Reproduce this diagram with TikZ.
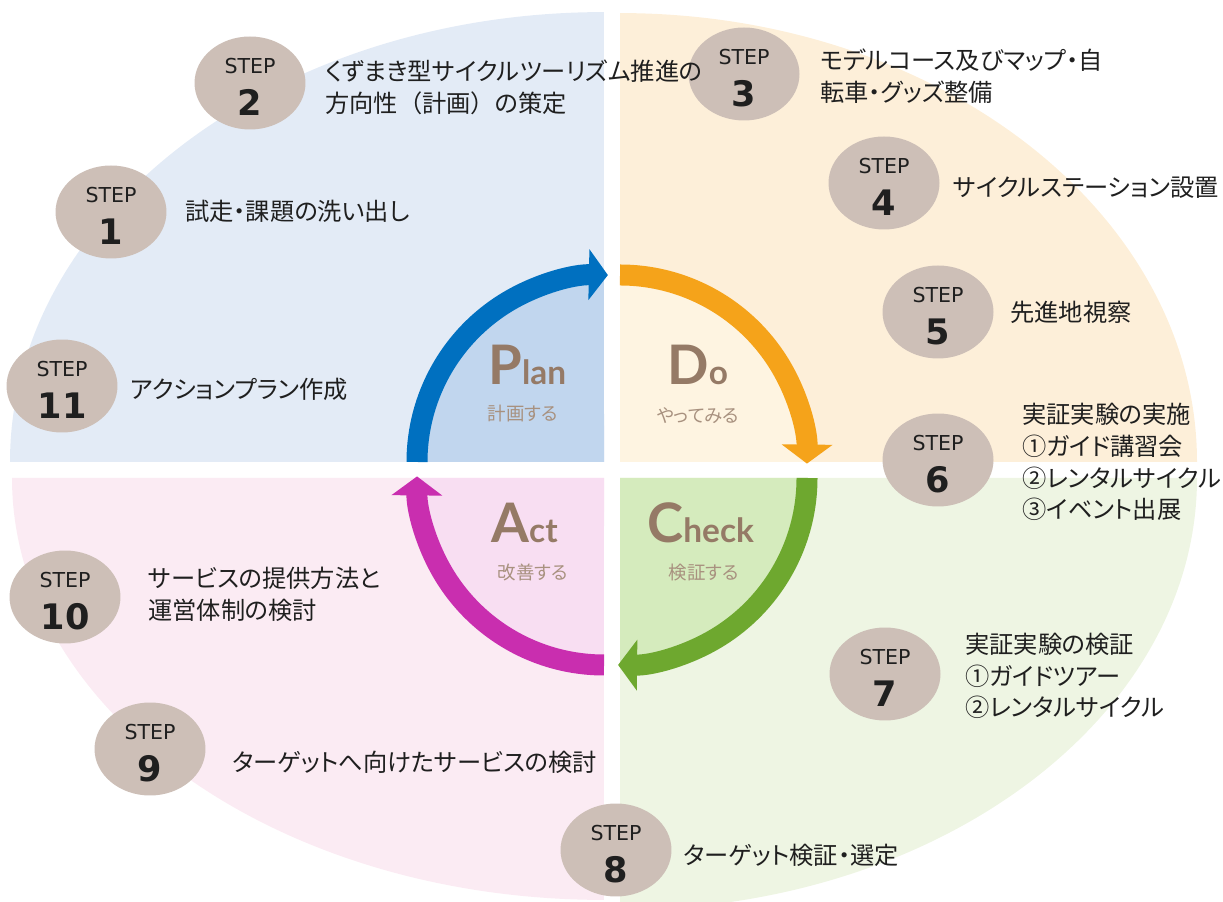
\documentclass[tikz,border=0pt]{standalone}
\usepackage{fontspec}
\newfontfamily\jpfont[RawFeature=+palt]{Noto Sans CJK JP}
\newfontfamily\jpwide{Noto Sans CJK JP}
\newfontfamily\stepfont{DejaVu Sans}
\newfontfamily\pdcafont{Lato}
\usetikzlibrary{arrows.meta,shapes.geometric}

\definecolor{planout}{HTML}{E3EBF6}
\definecolor{planin}{HTML}{C1D6EE}
\definecolor{planarr}{HTML}{0070C0}
\definecolor{doout}{HTML}{FDEFD9}
\definecolor{doin}{HTML}{FEF4E1}
\definecolor{doarr}{HTML}{F5A31A}
\definecolor{chkout}{HTML}{EEF5E3}
\definecolor{chkin}{HTML}{D5EBBD}
\definecolor{chkarr}{HTML}{6EA82F}
\definecolor{actout}{HTML}{FBEBF3}
\definecolor{actin}{HTML}{F8DEF2}
\definecolor{actarr}{HTML}{C92EAF}
\definecolor{stepfill}{HTML}{CDBFB7}
\definecolor{pdcabrown}{HTML}{957A66}
\definecolor{pdcalight}{HTML}{A8917F}

\tikzset{
    stepc/.style={ellipse, fill=stepfill, minimum width=2.22cm, minimum height=1.86cm,
        inner sep=0pt, align=center, text=black!88,
        font=\stepfont\fontsize{11.7}{24}\selectfont},
    stepj/.style={anchor=west, align=left, inner sep=0pt, text=black!88,
        font=\jpfont\fontsize{13.8}{18.1}\selectfont},
    cyc/.style={line width=0.42cm, -{Triangle[width=1cm, length=0.38cm]}},
    pdca/.style={anchor=base west, inner sep=0pt, text=pdcabrown,
        font=\pdcafont\bfseries\fontsize{19}{19}\selectfont},
    pdcasub/.style={inner sep=0pt, text=pdcalight, font=\jpfont\fontsize{10.5}{12}\selectfont}
}
\newcommand{\stepno}[1]{\rule{0pt}{13pt}STEP\\{\bfseries\fontsize{20}{24}\selectfont #1}}
\newcommand{\pdcainit}[1]{{\fontsize{31}{31}\selectfont #1}}

\begin{document}
\begin{tikzpicture}[x=0.02cm, y=0.02cm]
    \useasboundingbox (0,0) rectangle (1223,902);
    \clip (0,0) rectangle (1223,902);

    % quadrants
    \fill[planout] (604,440) -- (10,440) arc[start angle=180, end angle=90, x radius=11.88cm, y radius=9cm] -- cycle;
    \fill[doout] (620,440) -- (1197,440) arc[start angle=0, end angle=90, x radius=11.54cm, y radius=8.98cm] -- cycle;
    \fill[actout] (604,424) -- (12,424) arc[start angle=180, end angle=270, x radius=11.84cm, y radius=8.44cm] -- cycle;
    \fill[chkout] (620,424) -- (1197,424) arc[start angle=0, end angle=-90, x radius=11.54cm, y radius=8.64cm] -- cycle;

    % inner quarter discs
    \fill[planin] (604,440) -- (417,440) arc[start angle=180, end angle=90, radius=3.74cm] -- cycle;
    \fill[doin] (620,440) -- (807,440) arc[start angle=0, end angle=90, radius=3.74cm] -- cycle;
    \fill[actin] (604,424) -- (417,424) arc[start angle=180, end angle=270, radius=3.74cm] -- cycle;
    \fill[chkin] (620,424) -- (807,424) arc[start angle=0, end angle=-90, radius=3.74cm] -- cycle;

    % PDCA arrows
    \draw[cyc, planarr] (417,440) arc[start angle=180, end angle=88.8, radius=3.74cm];
    \draw[cyc, doarr] (620,627) arc[start angle=90, end angle=-0.5, radius=3.74cm];
    \draw[cyc, chkarr] (807,424) arc[start angle=0, end angle=-90.6, radius=3.74cm];
    \draw[cyc, actarr] (604,237) arc[start angle=270, end angle=179.5, radius=3.74cm];

    % PDCA words
    \node[pdca] (plan) at (488,517) {\pdcainit{P}lan};
    \node[pdcasub] (plansub) at (523,488) {計画する};
    \node[pdca] (do) at (667,517) {\pdcainit{D}o};
    \node[pdcasub] (dosub) at (698,486) {やってみる};
    \node[pdca] (act) at (491,359) {\pdcainit{A}ct};
    \node[pdcasub] (actsub) at (533,329) {改善する};
    \node[pdca] (check) at (647,359) {\pdcainit{C}heck};
    \node[pdcasub] (checksub) at (704,329) {検証する};

    % step circles
    \node[stepc] (s1) at (111,690) {\stepno{1}};
    \node[stepc] (s2) at (250,819) {\stepno{2}};
    \node[stepc] (s3) at (744,828) {\stepno{3}};
    \node[stepc] (s4) at (884,719) {\stepno{4}};
    \node[stepc] (s5) at (938,590) {\stepno{5}};
    \node[stepc] (s6) at (938,442) {\stepno{6}};
    \node[stepc] (s7) at (885,228) {\stepno{7}};
    \node[stepc] (s8) at (616,52) {\stepno{8}};
    \node[stepc] (s9) at (150,153) {\stepno{9}};
    \node[stepc] (s10) at (65,305) {\stepno{10}};
    \node[stepc] (s11) at (62,516) {\stepno{11}};

    % step texts
    \node[stepj] (t1) at (185,691) {試走・課題の洗い出し};
    \node[stepj] (t2) at (325,815) {くずまき型サイクルツーリズム推進の\\方向性{\jpwide（}計画{\jpwide）}の策定};
    \node[stepj] (t3) at (820,826) {モデルコース及びマップ・自\\転車・グッズ整備};
    \node[stepj] (t4) at (953,714) {サイクルステーション設置};
    \node[stepj] (t5) at (1010,590) {先進地視察};
    \node[stepj] (t6) at (1022,440) {実証実験の実施\\①ガイド講習会\\②レンタルサイクル\\③イベント出展};
    \node[stepj] (t7) at (965,226) {実証実験の検証\\①ガイドツアー\\②レンタルサイクル};
    \node[stepj] (t8) at (683,47) {ターゲット検証・選定};
    \node[stepj] (t9) at (232,140) {ターゲットへ向けたサービスの検討};
    \node[stepj] (t10) at (148,308) {サービスの提供方法と\\運営体制の検討};
    \node[stepj] (t11) at (130,513) {アクションプラン作成};
\end{tikzpicture}
\end{document}
